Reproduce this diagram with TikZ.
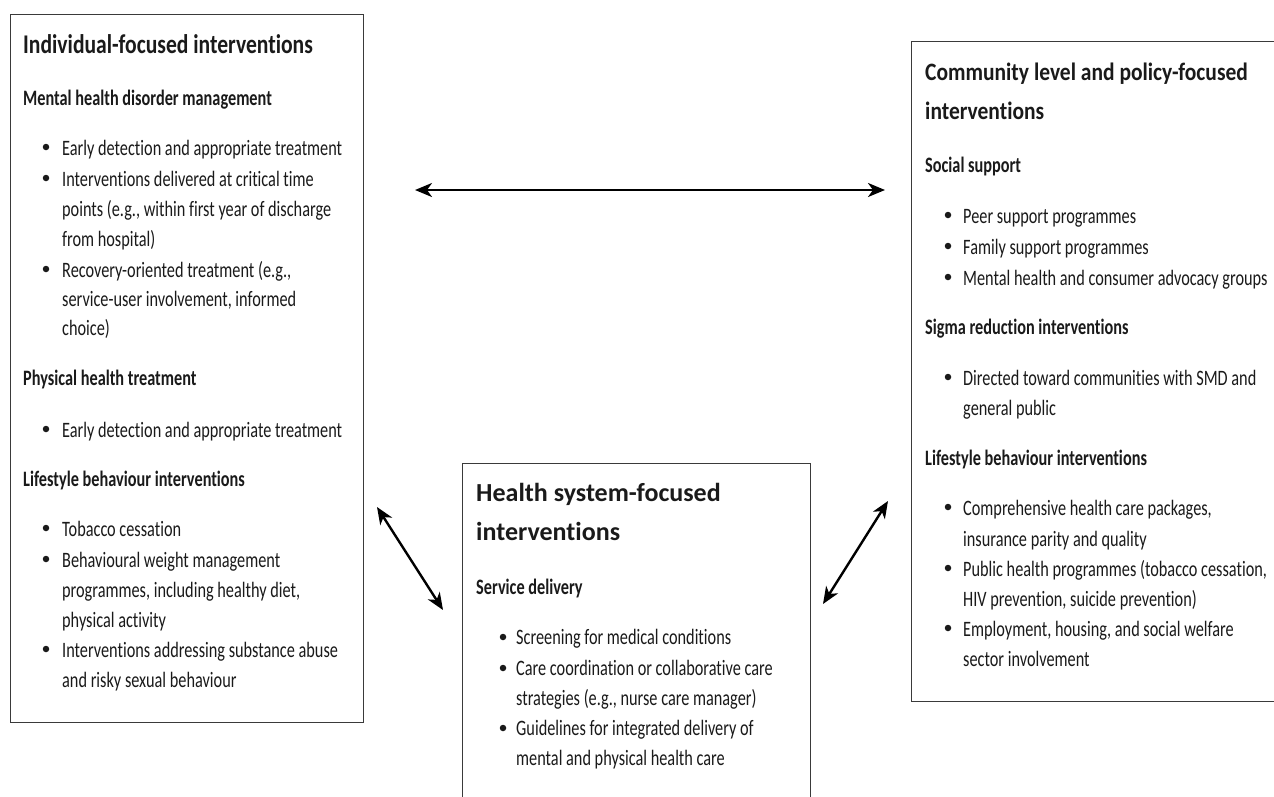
\documentclass[tikz,border=0pt]{standalone}
\usepackage{fontspec}
\usetikzlibrary{arrows.meta}
\setmainfont{Carlito}[FakeStretch=0.74,Ligatures={NoCommon}]
\newfontfamily\titleA{Carlito}[FakeStretch=0.8,Ligatures={NoCommon}]
\newfontfamily\titleB{Carlito}[FakeStretch=1.0,Ligatures={NoCommon}]
\newfontfamily\titleC{Carlito}[FakeStretch=0.86,Ligatures={NoCommon}]
\definecolor{ink}{HTML}{1A1A1A}
\definecolor{frame}{HTML}{3A3A3A}
\tikzset{
  panel/.style={draw=frame, line width=1.4pt, fill=none, inner sep=0pt, anchor=north west},
  ln/.style={anchor=base west, inner sep=0pt, text=ink, font=\fontsize{22}{26}\selectfont},
  sub/.style={ln, font=\fontsize{22}{26}\selectfont\bfseries},
  ttlA/.style={anchor=base west, inner sep=0pt, text=ink, font=\titleA\fontsize{27}{30}\selectfont\bfseries},
  ttlB/.style={anchor=base west, inner sep=0pt, text=ink, font=\titleB\fontsize{26}{30}\selectfont\bfseries},
  ttlC/.style={anchor=base west, inner sep=0pt, text=ink, font=\titleC\fontsize{25}{30}\selectfont\bfseries},
  dot/.style={circle, fill=ink, inner sep=0pt, minimum size=6.5pt},
  arr/.style={line width=2.4pt, {Stealth[length=17pt,width=14pt,inset=5pt]}-{Stealth[length=17pt,width=14pt,inset=5pt]}}
}
\begin{document}
\begin{tikzpicture}[x=1pt,y=-1pt]
\useasboundingbox (0,0) rectangle (1274,796);
\fill[white] (0,0) rectangle (1274,796);
% panels
\node[panel, minimum width=353pt, minimum height=708pt] (L) at (10,14) {};
\node[panel, minimum width=348pt, minimum height=345pt] (M) at (462,463) {};
\node[panel, minimum width=380pt, minimum height=660pt] (R) at (911,41) {};
% ---------- left panel
\node[ttlA] (Lt) at (23,53) {Individual-focused interventions};
\node[sub] (Ls1) at (23,105) {Mental health disorder management};
\foreach \t/\y [count=\i] in {
  {Early detection and appropriate treatment}/155,
  {Interventions delivered at critical time}/186,
  {points (e.g., within first year of discharge}/216,
  {from hospital)}/246,
  {Recovery-oriented treatment (e.g.,}/277,
  {service-user involvement, informed}/306,
  {choice)}/335,
  {Early detection and appropriate treatment}/437,
  {Tobacco cessation}/536,
  {Behavioural weight management}/567,
  {programmes, including healthy diet,}/597,
  {physical activity}/627,
  {Interventions addressing substance abuse}/657,
  {and risky sexual behaviour}/687}
  \node[ln] (Lb\i) at (62,\y) {\t};
\foreach \y [count=\i] in {147,178,269,429,528,559,649}
  \node[dot] (Ld\i) at (46,\y) {};
\node[sub] (Ls2) at (23,385) {Physical health treatment};
\node[sub] (Ls3) at (23,486) {Lifestyle behaviour interventions};
% ---------- middle panel
\node[ttlB] (Mt1) at (476,501) {Health system-focused};
\node[ttlB] (Mt2) at (476,540) {interventions};
\node[sub] (Ms1) at (476,594) {Service delivery};
\foreach \t/\y [count=\i] in {
  {Screening for medical conditions}/644,
  {Care coordination or collaborative care}/675,
  {strategies (e.g., nurse care manager)}/705,
  {Guidelines for integrated delivery of}/735,
  {mental and physical health care}/765}
  \node[ln] (Mb\i) at (516,\y) {\t};
\foreach \y [count=\i] in {637,668,728}
  \node[dot] (Md\i) at (503,\y) {};
% ---------- right panel
\node[ttlC] (Rt1) at (925,80) {Community level and policy-focused};
\node[ttlC] (Rt2) at (925,119) {interventions};
\node[sub] (Rs1) at (925,172) {Social support};
\node[sub] (Rs2) at (925,334) {Sigma reduction interventions};
\node[sub] (Rs3) at (925,465) {Lifestyle behaviour interventions};
\foreach \t/\y [count=\i] in {
  {Peer support programmes}/223,
  {Family support programmes}/254,
  {Mental health and consumer advocacy groups}/285,
  {Directed toward communities with SMD and}/385,
  {general public}/415,
  {Comprehensive health care packages,}/515,
  {insurance parity and quality}/546,
  {Public health programmes (tobacco cessation,}/576,
  {HIV prevention, suicide prevention)}/606,
  {Employment, housing, and social welfare}/636,
  {sector involvement}/666}
  \node[ln] (Rb\i) at (963,\y) {\t};
\foreach \y [count=\i] in {215,246,277,377,507,568,628}
  \node[dot] (Rd\i) at (948,\y) {};
% ---------- connectors
\coordinate (a1) at (415,190);
\coordinate (a2) at (885,190);
\coordinate (b1) at (377,507);
\coordinate (b2) at (443,610);
\coordinate (c1) at (888,501);
\coordinate (c2) at (823,604);
\draw[arr] (a1) -- (a2);
\draw[arr] (b1) -- (b2);
\draw[arr] (c1) -- (c2);
\end{tikzpicture}
\end{document}
